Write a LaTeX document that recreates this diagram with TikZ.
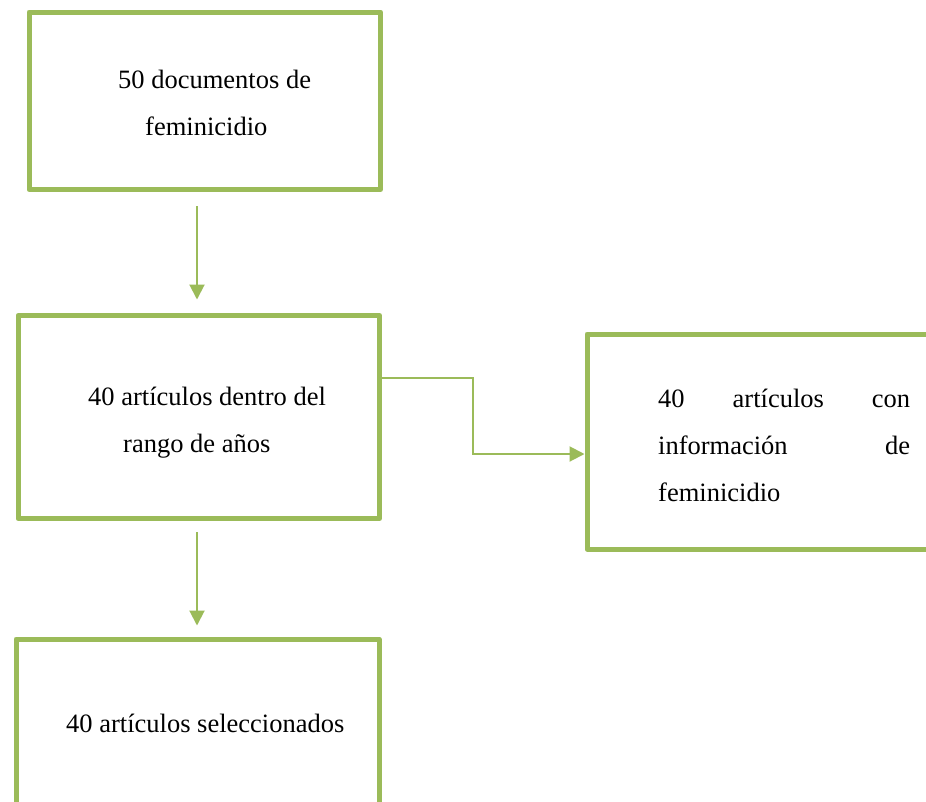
\documentclass[tikz,border=0pt]{standalone}
\usepackage{fontspec}
\setmainfont{Liberation Serif}
\usetikzlibrary{arrows.meta}
\definecolor{boxgreen}{RGB}{155,187,89}
\tikzset{
  flowbox/.style={draw=boxgreen, line width=5pt, line join=round, rectangle, inner sep=0pt, fill=white},
  txt/.style={anchor=base west, inner sep=0pt, font=\fontsize{26.5}{47}\selectfont, text=black},
  conn/.style={draw=boxgreen, line width=2pt, -{Triangle[length=15pt,width=15pt]}}
}
\begin{document}
\begin{tikzpicture}[x=1pt,y=-1pt]
\clip (0,0) rectangle (926,801);
\fill[white] (0,0) rectangle (926,801);
% boxes
\node[flowbox, minimum width=351.5pt, minimum height=177.5pt] (b1) at (204.75,100.75) {};
\node[flowbox, minimum width=361.5pt, minimum height=203pt] (b2) at (198.75,417) {};
\node[flowbox, minimum width=373pt, minimum height=215pt] (b3) at (773.5,441.5) {};
\node[flowbox, minimum width=363pt, minimum height=191pt] (b4) at (197.5,734.5) {};
% texts
\node[txt] (t1a) at (118,88.5) {50 documentos de};
\node[txt] (t1b) at (145,135.5) {feminicidio};
\node[txt] (t2a) at (88,405) {40 artículos dentro del};
\node[txt] (t2b) at (123,452) {rango de años};
\node[txt, text width=252pt, align=left] (t3a) at (658,407) {40\hfill artículos\hfill con};
\node[txt, text width=252pt, align=left] (t3b) at (658,454) {información\hfill de};
\node[txt] (t3c) at (658,501) {feminicidio};
\node[txt] (t4a) at (66,732.5) {40 artículos seleccionados};
% connector ends
\coordinate (a1s) at (197,206);
\coordinate (a1e) at (197,299.5);
\coordinate (a2s) at (197,532);
\coordinate (a2e) at (197,625.5);
\coordinate (e1) at (382,378);
\coordinate (e2) at (584.5,454);
% connectors
\draw[conn] (a1s) -- (a1e);
\draw[conn] (a2s) -- (a2e);
\draw[conn] (e1) -- ++(90.5,0) |- (e2);
\end{tikzpicture}
\end{document}
